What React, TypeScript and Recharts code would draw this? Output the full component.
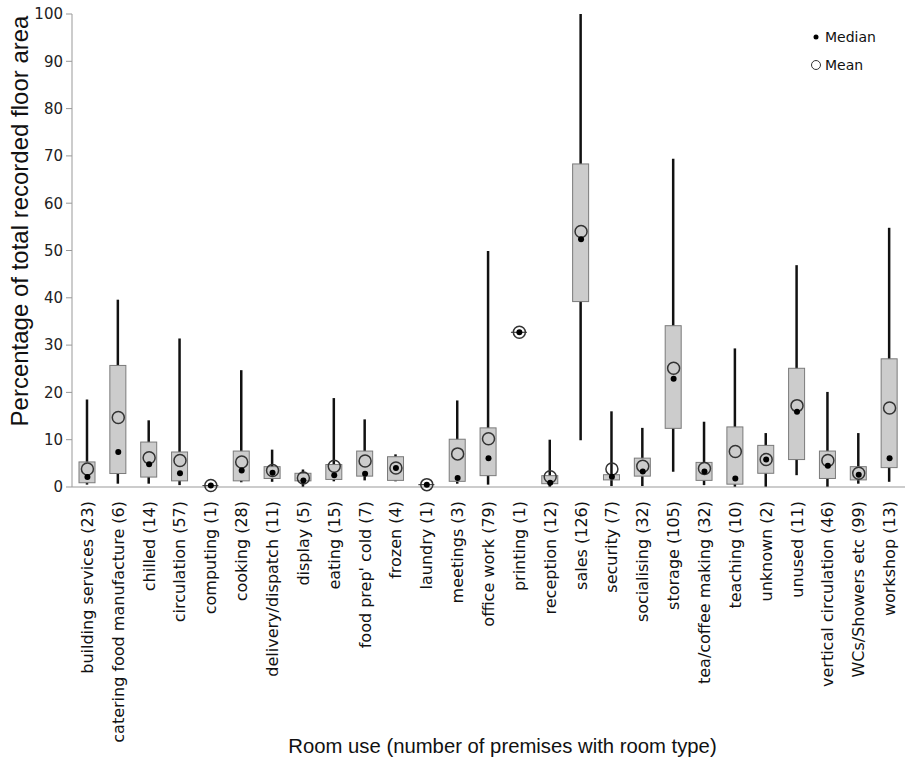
import { ComposedChart, Bar, Scatter, XAxis, YAxis, Legend } from 'recharts';

// room types and how many premises have each one
const ROOM_USES = [
  'building services', 'catering food manufacture', 'chilled', 'circulation', 'computing',
  'cooking', 'delivery/dispatch', 'display', 'eating', "food prep' cold", 'frozen', 'laundry',
  'meetings', 'office work', 'printing', 'reception', 'sales', 'security', 'socialising',
  'storage', 'tea/coffee making', 'teaching', 'unknown', 'unused', 'vertical circulation',
  'WCs/Showers etc', 'workshop',
];
const PREMISES = [23, 6, 14, 57, 1, 28, 11, 5, 15, 7, 4, 1, 3, 79, 1, 12, 126, 7, 32, 105, 32, 10, 2, 11, 46, 99, 13];

// % of recorded floor area
const WHISKER_LOW = [0.5, 0.7, 0.7, 0.4, 0.3, 1.0, 1.1, 0.0, 1.2, 1.4, 1.2, 0.5, 0.7, 0.5, 32.7, 0.0, 9.9, 0.2, 0.2, 3.2, 0.4, 0.0, 0.0, 2.5, 0.0, 0.7, 1.1];
const Q1 = [0.9, 2.85, 2.1, 1.3, 0.3, 1.3, 1.8, 1.3, 1.6, 2.3, 1.4, 0.5, 1.2, 2.4, 32.7, 0.7, 39.2, 1.5, 2.3, 12.4, 1.4, 0.6, 2.9, 5.8, 1.8, 1.5, 4.1];
const MEDIAN = [2.1, 7.4, 4.8, 2.9, 0.3, 3.5, 3.0, 1.4, 2.5, 2.8, 4.0, 0.5, 1.9, 6.1, 32.7, 0.9, 52.4, 2.15, 3.3, 22.9, 3.3, 1.8, 5.8, 15.9, 4.5, 2.6, 6.1];
const MEAN = [3.8, 14.7, 6.2, 5.6, 0.3, 5.3, 3.5, 1.9, 4.4, 5.5, 4.0, 0.5, 7.0, 10.2, 32.7, 2.15, 54.0, 3.8, 4.4, 25.1, 3.9, 7.5, 5.8, 17.2, 5.6, 2.9, 16.7];
const Q3 = [5.3, 25.7, 9.5, 7.4, 0.3, 7.6, 4.3, 2.9, 4.75, 7.6, 6.4, 0.5, 10.1, 12.5, 32.7, 2.4, 68.3, 2.6, 6.1, 34.1, 5.2, 12.7, 8.8, 25.1, 7.6, 4.3, 27.1];
const WHISKER_HIGH = [18.5, 39.6, 14.1, 31.4, 0.3, 24.7, 7.9, 3.7, 18.8, 14.3, 6.9, 0.5, 18.3, 49.9, 32.7, 10.0, 100, 16.0, 12.5, 69.4, 13.8, 29.3, 11.4, 46.9, 20.1, 11.4, 54.8];

const Y_TICKS = [0, 10, 20, 30, 40, 50, 60, 70, 80, 90, 100];

const chartData = ROOM_USES.map((room, i) => ({
  name: `${room} (${PREMISES[i]})`,
  whisker: [WHISKER_LOW[i], WHISKER_HIGH[i]],
  box: [Q1[i], Q3[i]],
  median: MEDIAN[i],
  mean: MEAN[i],
}));

const TICK_FONT = '"DejaVu Sans", Verdana, sans-serif';
const TITLE_FONT = '"Liberation Sans", Arial, sans-serif';

const WhiskerShape = (props: any) => {
  const { x, y, width, height } = props;
  if (!height) return null;
  const cx = x + width / 2;
  const top = Math.min(y, y + height);
  return <line x1={cx} x2={cx} y1={top} y2={top + Math.abs(height)} stroke="#111" strokeWidth={2.5} />;
};

const BoxShape = (props: any) => {
  const { x, y, width, height } = props;
  const h = Math.abs(height || 0);
  const top = Math.min(y, y + (height || 0));
  // single-premises rooms collapse to a flat line
  if (h < 1) {
    return <line x1={x} x2={x + width} y1={top} y2={top} stroke="#444" strokeWidth={1.2} />;
  }
  return <rect x={x} y={top} width={width} height={h} fill="#cccccc" stroke="#7a7a7a" strokeWidth={1} />;
};

const MeanShape = (props: any) => (
  <circle cx={props.cx} cy={props.cy} r={6} fill="none" stroke="#333" strokeWidth={1.5} />
);

const MedianShape = (props: any) => <circle cx={props.cx} cy={props.cy} r={3} fill="#000" />;

const CategoryTick = (props: any) => {
  const { x, y, payload } = props;
  const bx = x + 5.5;
  return (
    <text
      x={bx}
      y={y}
      transform={`rotate(-90 ${bx} ${y})`}
      textAnchor="end"
      fontFamily={TICK_FONT}
      fontSize={16}
      fill="#111"
    >
      {payload.value}
    </text>
  );
};

const LegendBox = () => (
  <svg width={90} height={60}>
    <circle cx={8} cy={11} r={2.5} fill="#000" />
    <text x={17} y={16} fontFamily={TICK_FONT} fontSize={14} fill="#111">Median</text>
    <circle cx={8} cy={39} r={4.5} fill="none" stroke="#333" strokeWidth={1} />
    <text x={17} y={44} fontFamily={TICK_FONT} fontSize={14} fill="#111">Mean</text>
  </svg>
);

export default function App() {
  return (
    <div style={{ position: 'absolute', left: 0, top: 0, width: 905, height: 761, background: '#fff' }}>
      <ComposedChart width={905} height={761} data={chartData} margin={{ top: 14, right: 0, bottom: 0, left: 0 }}>
        <XAxis
          dataKey="name"
          type="category"
          interval={0}
          height={274}
          tickSize={0}
          tickMargin={14}
          tick={<CategoryTick />}
          axisLine={{ stroke: '#999' }}
          label={{
            content: ({ viewBox }: any) => (
              <text
                x={viewBox.x + viewBox.width / 2 + 14}
                y={753}
                textAnchor="middle"
                fontFamily={TITLE_FONT}
                fontSize={20.3}
                fill="#111"
              >
                Room use (number of premises with room type)
              </text>
            ),
          }}
        />
        <XAxis xAxisId="w" dataKey="name" type="category" hide />
        <YAxis
          type="number"
          domain={[0, 100]}
          ticks={Y_TICKS}
          width={72}
          tickSize={6}
          tickMargin={3}
          tick={{ fontFamily: TICK_FONT, fontSize: 15, fill: '#222' }}
          axisLine={{ stroke: '#999' }}
          tickLine={{ stroke: '#999' }}
          label={{
            content: () => (
              <text
                x={28}
                y={221}
                transform="rotate(-90 28 221)"
                textAnchor="middle"
                fontFamily={TITLE_FONT}
                fontSize={24}
                fill="#111"
              >
                Percentage of total recorded floor area
              </text>
            ),
          }}
        />
        <Legend
          layout="vertical"
          align="center"
          verticalAlign="middle"
          wrapperStyle={{ left: 808, top: 26, width: 90, height: 60 }}
          content={() => <LegendBox />}
        />
        <Bar xAxisId="w" dataKey="whisker" barSize={16} shape={<WhiskerShape />} isAnimationActive={false} legendType="none" />
        <Bar dataKey="box" barSize={16} shape={<BoxShape />} isAnimationActive={false} legendType="none" />
        <Scatter dataKey="mean" shape={<MeanShape />} isAnimationActive={false} legendType="none" />
        <Scatter dataKey="median" shape={<MedianShape />} isAnimationActive={false} legendType="none" />
      </ComposedChart>
    </div>
  );
}
